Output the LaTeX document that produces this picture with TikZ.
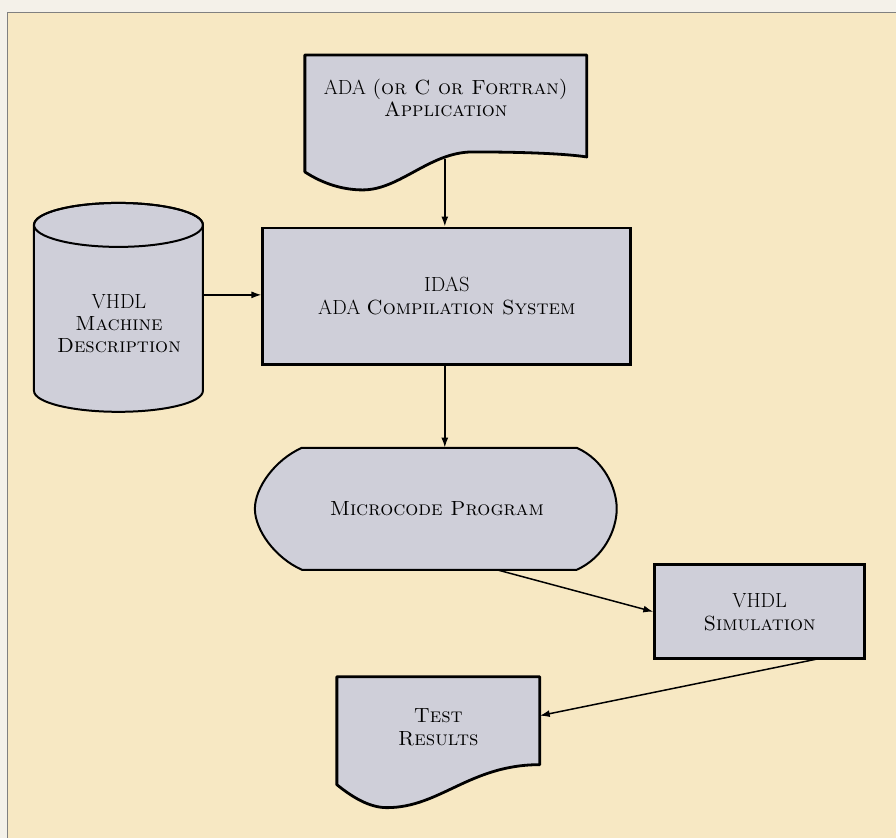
\documentclass[tikz,border=0pt]{standalone}
\usepackage{xcolor}
\usepackage{tikz}
\usetikzlibrary{arrows.meta}

\definecolor{paper}{RGB}{244,241,233}
\definecolor{cream}{RGB}{247,232,195}
\definecolor{panel}{RGB}{207,207,217}

\begin{document}
\begin{tikzpicture}[x=1pt, y=1pt,
    txt/.style={align=center, text=black, font=\fontsize{20.5}{23}\selectfont},
    box/.style={txt, draw, fill=panel, line width=2.8pt},
    flow/.style={-{Latex[length=10pt,width=7pt]}, line width=1.5pt}]
  % page and panel
  \fill[paper] (0,0) rectangle (896,-838);
  \fill[cream] (7,-12) rectangle (896,-838);
  \draw[gray, line width=0.8pt] (7,-838) -- (7,-12) -- (896,-12);

  % source document
  \filldraw[fill=panel, line width=2.8pt, line join=round]
    (305,-55) -- (587,-55) -- (587,-157)
    .. controls (560,-153) and (510,-152) .. (473,-152)
    .. controls (430,-152) and (400,-190) .. (363,-190)
    .. controls (345,-190) and (325,-185) .. (305,-172) -- cycle;
  \node[txt] (app) at (446,-98) {ADA \textsc{(or C or Fortran)}\\ \textsc{Application}};
  \coordinate (appout) at (445,-159);

  % compiler
  \node[box, minimum width=368, minimum height=137] (ida) at (447,-296.5)
    {IDAS\\ ADA \textsc{Compilation System}};

  % machine description database
  \filldraw[fill=panel, line width=2pt]
    (34,-225) -- (34,-391) arc (180:360:84.5 and 21) -- (203,-225)
    arc (0:180:84.5 and 22) -- cycle;
  \draw[line width=2pt] (118.5,-225) ellipse (84.5 and 22);
  \node[txt, font=\fontsize{20.5}{22}\selectfont] (vhdl) at (119,-324)
    {VHDL\\ \textsc{Machine}\\ \textsc{Description}};
  \coordinate (cylout) at (203,-295);

  % microcode terminal
  \filldraw[fill=panel, line width=2pt]
    (302,-448) -- (577,-448)
    .. controls (604,-460) and (617,-488) .. (617,-509)
    .. controls (617,-530) and (604,-558) .. (577,-570)
    -- (302,-570)
    .. controls (275,-558) and (255,-530) .. (255,-509)
    .. controls (255,-488) and (275,-460) .. (302,-448) -- cycle;
  \node[txt, minimum width=362, minimum height=122] (prog) at (437,-509)
    {\textsc{Microcode Program}};
  \coordinate (progout) at (497,-570);

  % simulation
  \node[box, minimum width=210, minimum height=94] (sim) at (760,-612)
    {VHDL\\ \textsc{Simulation}};
  \coordinate (simout) at (819,-659);

  % results document
  \filldraw[fill=panel, line width=2.8pt, line join=round]
    (337,-677) -- (540,-677) -- (540,-765)
    .. controls (470,-765) and (440,-808) .. (387,-808)
    .. controls (370,-808) and (353,-798) .. (337,-785) -- cycle;
  \node[txt] (test) at (438.5,-728) {\textsc{Test}\\ \textsc{Results}};
  \coordinate (testin) at (540,-716);

  % flow
  \draw[flow] (appout) -- (appout |- ida.north);
  \draw[flow] (cylout) -- (cylout -| ida.west);
  \draw[flow] (appout |- ida.south) -- (appout |- prog.north);
  \draw[flow] (progout) -- (sim.west);
  \draw[flow] (simout) -- (testin);
\end{tikzpicture}
\end{document}
